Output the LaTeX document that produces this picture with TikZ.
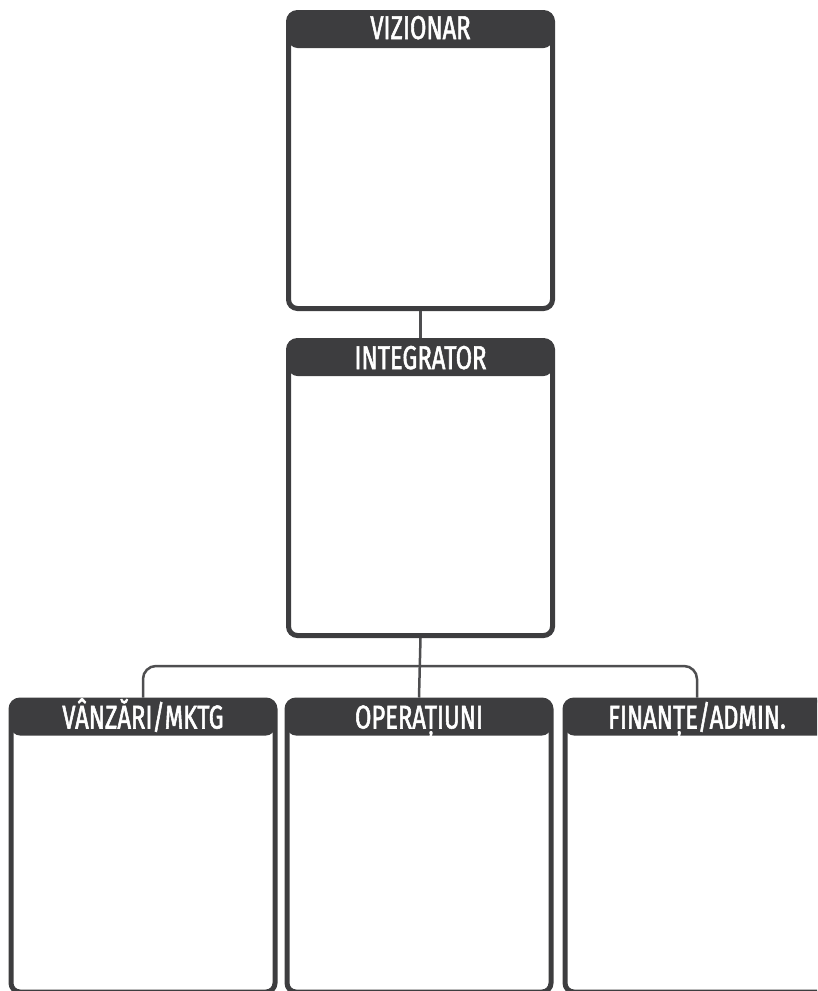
\documentclass[tikz,border=0pt]{standalone}
\usepackage{fontspec}
\usepackage{tikz}
\usetikzlibrary{calc}
\usepackage{xcolor}
\newfontfamily\headfont{Fira Sans}[FakeStretch=0.72, FakeBold=1.6]
\definecolor{boxdark}{RGB}{61,61,63}
\definecolor{linegray}{RGB}{78,78,80}

\begin{document}
\begin{tikzpicture}[x=1pt, y=-1pt,
    card/.style={draw=boxdark, line width=5pt, rounded corners=9pt, inner sep=0pt,
        minimum width=264pt, minimum height=#1,
        path picture={\fill[boxdark] ([yshift=3pt]path picture bounding box.north west)
            rectangle ([yshift=-35.5pt]path picture bounding box.north east);}},
    title/.style={text=white, anchor=base, inner sep=0pt,
        font=\headfont\fontsize{33}{33}\selectfont},
    link/.style={draw=linegray, line width=2.5pt, rounded corners=13pt}]
    \clip (0,0) rectangle (817,991);
    % top
    \node[card=296pt] (vizionar) at (420.5,160.5) {};
    \node[title] (vizionar-t) at ([yshift=-29pt]vizionar.north) {VIZIONAR};
    % middle
    \node[card=295pt] (integrator) at (420.5,488) {};
    \node[title] (integrator-t) at ([yshift=-31pt]integrator.north) {INTEGRATOR};
    % bottom row
    \node[card=292pt] (vanzari) at (143,846) {};
    \node[title] (vanzari-t) at ([yshift=-31pt]vanzari.north) {VÂNZĂRI/MKTG};
    \node[card=292pt] (operatiuni) at (419,846) {};
    \node[title] (operatiuni-t) at ([yshift=-31pt]operatiuni.north) {OPERAȚIUNI};
    \node[card=292pt] (finante) at (697,846) {};
    \node[title] (finante-t) at ([yshift=-31pt]finante.north) {FINANȚE/ADMIN.};
    % links
    \draw[link] (vizionar.south) -- (integrator.north);
    \coordinate (split) at ($(integrator.south)+(0,28)$);
    \draw[link] (integrator.south) -- (operatiuni.north);
    \draw[link] (vanzari.north) |- (split) -| (finante.north);
\end{tikzpicture}
\end{document}
